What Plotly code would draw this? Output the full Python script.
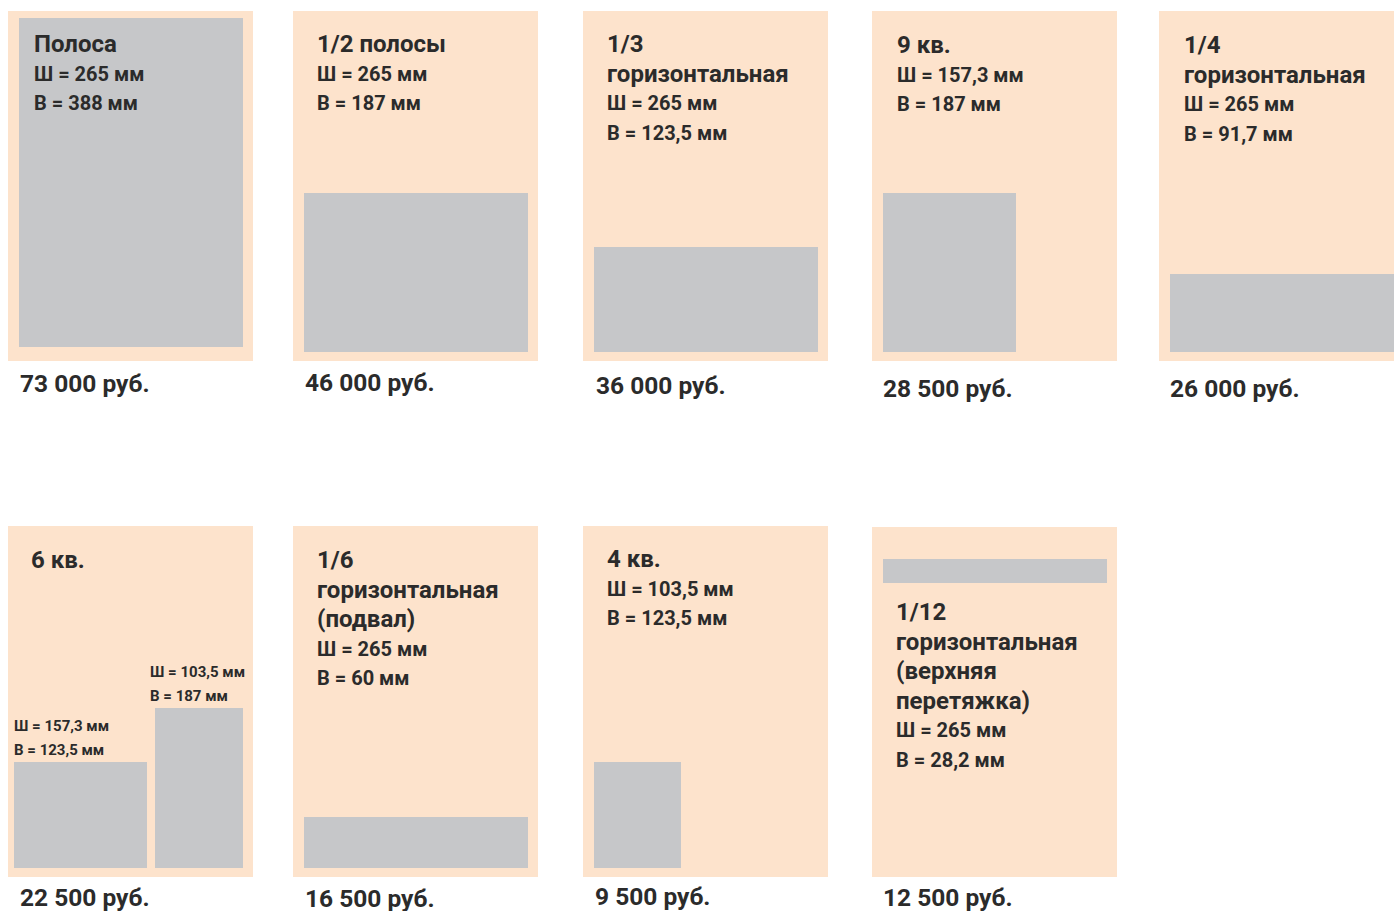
import plotly.graph_objects as go

# ---------------- data ----------------
title_lines = [
    ["Полоса"],
    ["1/2 полосы"],
    ["1/3", "горизонтальная"],
    ["9 кв."],
    ["1/4", "горизонтальная"],
    ["6 кв."],
    ["1/6", "горизонтальная", "(подвал)"],
    ["4 кв."],
    ["1/12", "горизонтальная", "(верхняя", "перетяжка)"],
]
module_w = [[265], [265], [265], [157.3], [265], [157.3, 103.5], [265], [103.5], [265]]
module_h = [[388], [187], [123.5], [187], [91.7], [123.5, 187], [60], [123.5], [28.2]]
prices = [73000, 46000, 36000, 28500, 26000, 22500, 16500, 9500, 12500]

# ---------------- style / layout ----------------
W, H = 1394, 911
PEACH = "#FDE3CC"
GRAY = "#C6C7C9"
TXT = "#2B2B2B"
FONT = "Roboto"

# panel boxes in pixels: left, top, right, bottom
boxes = [
    (8, 11, 253, 361), (293, 11, 538, 361), (583, 11, 828, 361),
    (872, 11, 1117, 361), (1159, 11, 1404, 361),
    (8, 526, 253, 877), (293, 526, 538, 877), (583, 526, 828, 877),
    (872, 527, 1117, 877),
]
placement = ["full", "bottom", "bottom", "bottom", "bottom", "pair", "bottom", "bottom", "top"]
title_y0 = [44, 44, 44, 45, 45, 560, 560, 559, 612]
text_dx = [24, 22, 22, 23, 23, 21, 22, 22, 22]
price_y = [383, 382, 386, 388, 388, 897, 898, 896, 897]
price_dx = [11, 11, 12, 10, 10, 11, 11, 11, 10]
LINE = 29.6

X_RANGE = [-13, 277]  # mm
Y_RANGE = [404, -8]   # mm (reversed)
BOTTOM = 393


def fmt_num(v):
    return ("%g" % v).replace(".", ",")


def fmt_price(p):
    return f"{p:,}".replace(",", " ") + " руб."


def px(x, y):
    return x / W, 1 - y / H


fig = go.Figure()
shapes = []
annotations = []

for i, (l, t, r, b) in enumerate(boxes):
    k = "" if i == 0 else str(i + 1)
    xa, ya = "xaxis" + k, "yaxis" + k
    xr, yr = "x" + k, "y" + k
    x0d, x1d = l / W, min(r, W) / W
    y0d, y1d = 1 - b / H, 1 - t / H
    mm_per_px = (X_RANGE[1] - X_RANGE[0]) / (r - l)
    xrng = [X_RANGE[0], X_RANGE[0] + (min(r, W) - l) * mm_per_px]
    fig.layout[xa] = dict(domain=[x0d, x1d], range=xrng, visible=False, anchor=yr, fixedrange=True)
    fig.layout[ya] = dict(domain=[y0d, y1d], range=Y_RANGE, visible=False, anchor=xr, fixedrange=True)

    shapes.append(dict(type="rect", xref=xr + " domain", yref=yr + " domain",
                       x0=0, x1=1, y0=0, y1=1, fillcolor=PEACH, line=dict(width=0), layer="below"))

    ws, hs = module_w[i], module_h[i]
    xs, bases, wid, hts = [], [], [], []
    if placement[i] == "full":
        xs.append(ws[0] / 2); bases.append(0); wid.append(ws[0]); hts.append(hs[0])
    elif placement[i] == "bottom":
        xs.append(ws[0] / 2); bases.append(BOTTOM - hs[0]); wid.append(ws[0]); hts.append(hs[0])
    elif placement[i] == "top":
        xs.append(ws[0] / 2); bases.append(30); wid.append(ws[0]); hts.append(hs[0])
    elif placement[i] == "pair":
        a0 = -6
        xs.append(a0 + ws[0] / 2); bases.append(BOTTOM - hs[0]); wid.append(ws[0]); hts.append(hs[0])
        b0 = 265 - ws[1]
        xs.append(b0 + ws[1] / 2); bases.append(BOTTOM - hs[1]); wid.append(ws[1]); hts.append(hs[1])
        for (mx, mw, mh, dx) in [(a0, ws[0], hs[0], -2), (b0, ws[1], hs[1], -7)]:
            top = BOTTOM - mh
            annotations.append(dict(xref=xr, yref=yr, x=mx, y=top, xshift=dx, yshift=36,
                                    text=f"Ш = {fmt_num(mw)} мм", showarrow=False,
                                    xanchor="left", yanchor="middle",
                                    font=dict(family=FONT, size=15, color=TXT, weight=700)))
            annotations.append(dict(xref=xr, yref=yr, x=mx, y=top, xshift=dx, yshift=12,
                                    text=f"В = {fmt_num(mh)} мм", showarrow=False,
                                    xanchor="left", yanchor="middle",
                                    font=dict(family=FONT, size=15, color=TXT, weight=700)))

    fig.add_trace(go.Bar(x=xs, y=hts, base=bases, width=wid, xaxis=xr, yaxis=yr,
                         marker=dict(color=GRAY, line=dict(width=0)),
                         hoverinfo="skip", showlegend=False))

    lines = [(s, 24) for s in title_lines[i]]
    if placement[i] != "pair":
        lines += [(f"Ш = {fmt_num(ws[0])} мм", 20), (f"В = {fmt_num(hs[0])} мм", 20)]
    for j, (s, fs) in enumerate(lines):
        ax, ay = px(l + text_dx[i], title_y0[i] + j * LINE)
        annotations.append(dict(xref="paper", yref="paper", x=ax, y=ay, text=s, showarrow=False,
                                xanchor="left", yanchor="middle",
                                font=dict(family=FONT, size=fs, color=TXT, weight=700)))

    ax, ay = px(l + price_dx[i], price_y[i])
    annotations.append(dict(xref="paper", yref="paper", x=ax, y=ay, text=fmt_price(prices[i]),
                            showarrow=False, xanchor="left", yanchor="middle", borderpad=0,
                            font=dict(family=FONT, size=24.5, color=TXT, weight=700)))

fig.update_layout(
    width=W, height=H, autosize=False,
    margin=dict(l=0, r=0, t=0, b=0, pad=0),
    paper_bgcolor="white", plot_bgcolor="rgba(0,0,0,0)",
    shapes=shapes, annotations=annotations,
    bargap=0, showlegend=False,
)

fig.write_html("out.html", config={"displayModeBar": False},
               post_script="document.body.style.margin='0';document.body.style.overflow='hidden';")
